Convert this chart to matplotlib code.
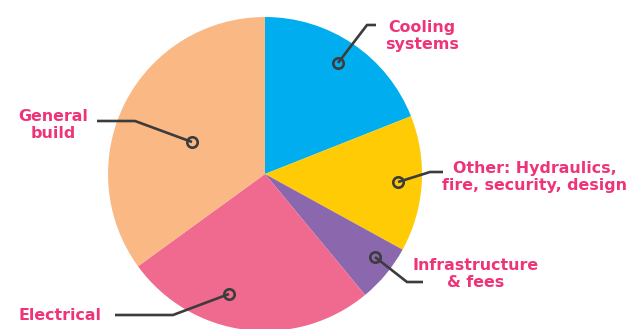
import matplotlib
matplotlib.use("Agg")
import matplotlib.pyplot as plt

# Data-centre cost breakdown (share of total, %), clockwise from 12 o'clock
categories = ["Cooling\nsystems", "Other: Hydraulics,\nfire, security, design",
              "Infrastructure\n& fees", "Electrical", "General\nbuild"]
shares = [19, 14, 6, 26, 35]
colors = ["#00AEEF", "#FFCB05", "#8B67AE", "#F06A8F", "#FAB885"]

label_color = "#EF3379"
line_color = "#3C3C3C"

fig = plt.figure(figsize=(6.3, 3.29), dpi=100)
ax = fig.add_axes([0, 0, 1, 1])

cx, cy, r = 265, 155, 157
ax.pie(shares, colors=colors, startangle=90, counterclock=False,
       center=(cx, cy), radius=r, frame=True,
       wedgeprops=dict(linewidth=0))
ax.set_xlim(0, 630)
ax.set_ylim(0, 329)
ax.axis("off")

# leader lines: (dot, elbow, end), and label anchor
leaders = [
    ((338, 266), (367, 304), (376, 304), (422, 293), "center"),
    ((398, 147), (430, 157), (443, 157), (535, 152), "center"),
    ((375, 72), (407, 47), (423, 47), (476, 55), "center"),
    ((229, 35), (173, 14), (115, 14), (19, 14), "left"),
    ((192, 187), (135, 208), (97, 208), (53, 204), "center"),
]

for (dot, elbow, end, txt, ha), label in zip(leaders, categories):
    ax.plot([dot[0], elbow[0], end[0]], [dot[1], elbow[1], end[1]],
            color=line_color, lw=1.9, solid_capstyle="butt", zorder=3)
    ax.plot(dot[0], dot[1], marker="o", ms=7.5, mfc="none",
            mec=line_color, mew=1.9, zorder=4)
    ax.text(txt[0], txt[1], label, ha=ha, va="center", color=label_color,
            fontsize=11.4, fontweight="bold", family="DejaVu Sans",
            linespacing=1.15, zorder=5)

fig.savefig("out.png", dpi=100)
